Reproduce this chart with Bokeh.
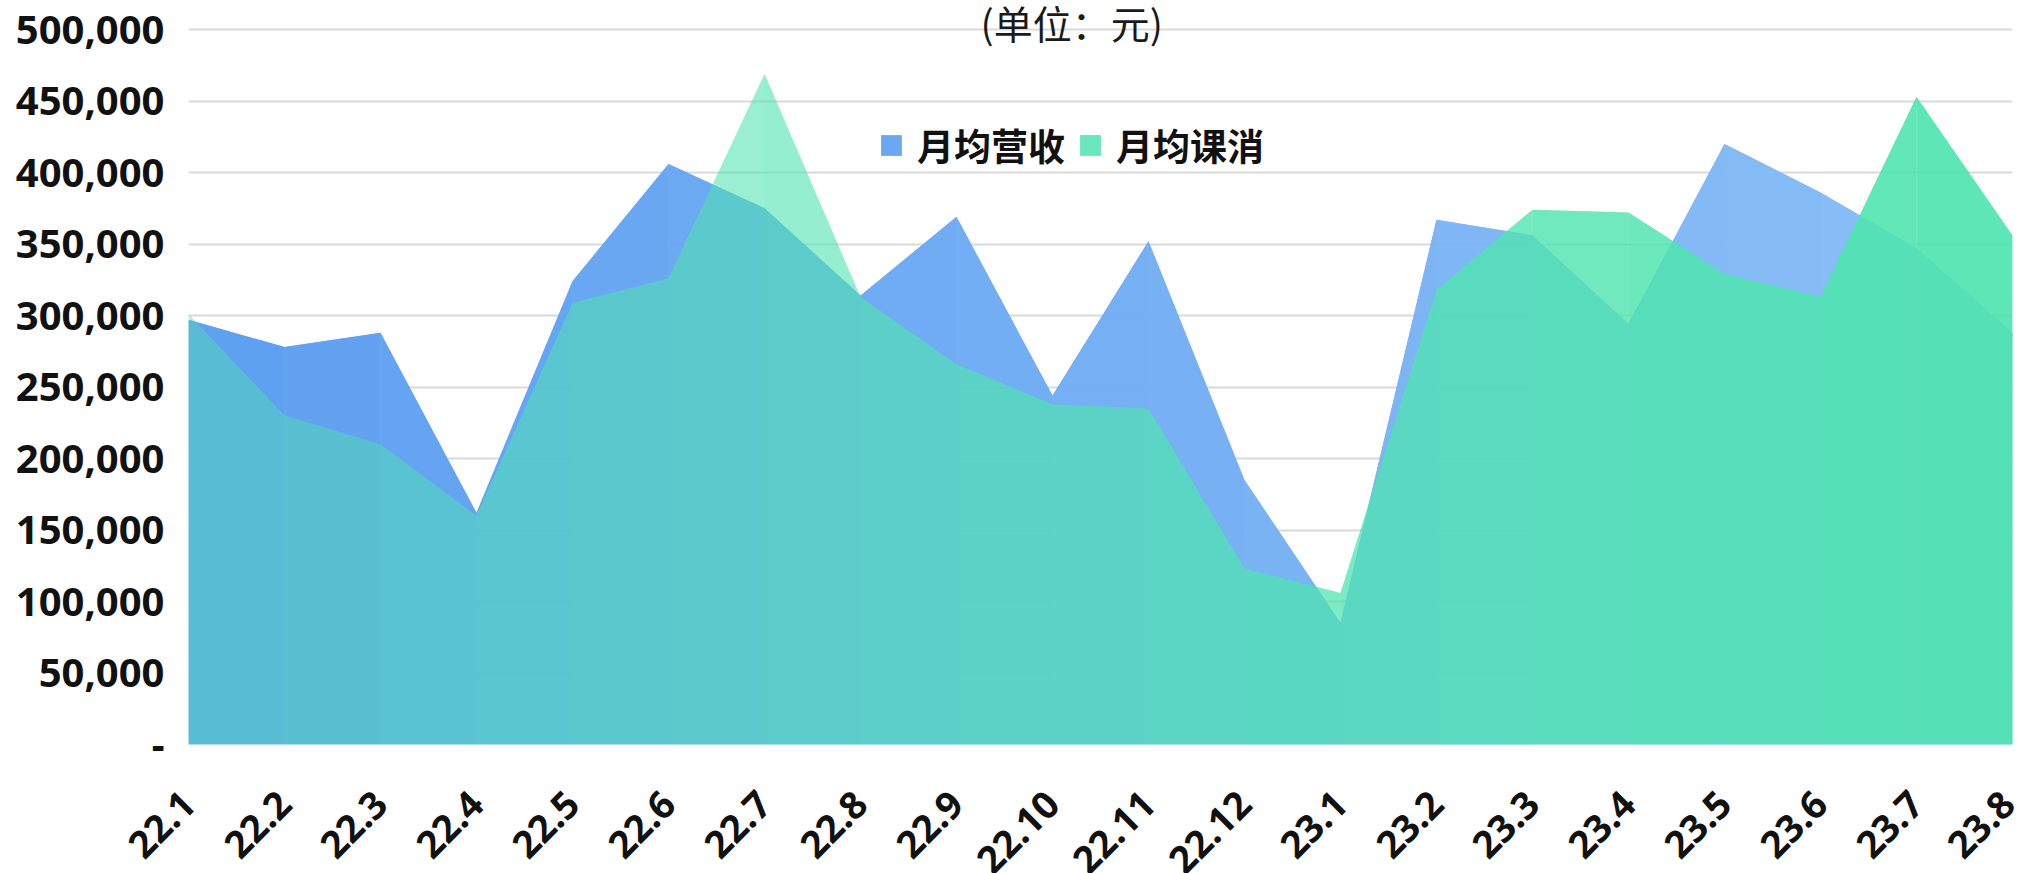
import math
from bokeh.plotting import figure
from bokeh.models import FixedTicker, NumeralTickFormatter, Legend, LegendItem, Label
from bokeh.embed import file_html
from bokeh.resources import INLINE

# ---- data ----
months = ["22.1", "22.2", "22.3", "22.4", "22.5", "22.6", "22.7", "22.8", "22.9", "22.10",
          "22.11", "22.12", "23.1", "23.2", "23.3", "23.4", "23.5", "23.6", "23.7", "23.8"]
revenue = [297000, 278000, 288000, 162000, 324000, 406000, 375000, 314000, 369000, 244000,
           352000, 185000, 85000, 367000, 356000, 294000, 420000, 386000, 347000, 288000]
consumption = [301000, 230000, 210000, 160000, 309000, 326000, 469000, 313000, 266000, 238000,
               235000, 123000, 106000, 318000, 374000, 372000, 329000, 313000, 453000, 356000]
y_ticks = [0, 50000, 100000, 150000, 200000, 250000, 300000, 350000, 400000, 450000, 500000]
series_names = ["月均营收", "月均课消"]
unit_text = "(单位：元)"

n = len(months)
xs = list(range(n))
zeros = [0] * n

def lerp_color(c1, c2, t):
    return "#%02x%02x%02x" % tuple(int(round(a + (b - a) * t)) for a, b in zip(c1, c2))

BLUE_L = (90, 157, 241)
BLUE_R = (140, 192, 246)
GREEN = "#50e4b0"

BOTTOM = 185
p = figure(width=2017, height=744 + BOTTOM, output_backend="svg", toolbar_location=None,
           x_range=(0, n - 1), y_range=(0, 520300),
           min_border_left=188, min_border_right=5, min_border_top=0, min_border_bottom=BOTTOM)
p.outline_line_color = None
p.background_fill_color = "white"
p.border_fill_color = "white"

# revenue area: a full underlayer + gradient segments
p.varea(x=xs, y1=zeros, y2=revenue, fill_color=lerp_color(BLUE_L, BLUE_R, 0.5), fill_alpha=0.9)
blue_r = []
for i in range(n - 1):
    t = (i + 0.5) / (n - 1)
    r = p.varea(x=xs[i:i + 2], y1=[0, 0], y2=revenue[i:i + 2],
                fill_color=lerp_color(BLUE_L, BLUE_R, t), fill_alpha=0.9)
    blue_r.append(r)

# consumption area: translucent underlayer + segments adding opacity to the right
A_BASE = 0.43
p.varea(x=xs, y1=zeros, y2=consumption, fill_color=GREEN, fill_alpha=A_BASE)
green_r = []
for i in range(n - 1):
    t = (i + 0.5) / (n - 1)
    target = 0.43 + 0.51 * t
    a_s = max(0.0, 1 - (1 - target) / (1 - A_BASE))
    r = p.varea(x=xs[i:i + 2], y1=[0, 0], y2=consumption[i:i + 2],
                fill_color=GREEN, fill_alpha=a_s)
    green_r.append(r)

# axes
p.xaxis.ticker = FixedTicker(ticks=xs)
p.xaxis.major_label_overrides = {i: m for i, m in enumerate(months)}
p.xaxis.major_label_orientation = math.pi / 4
p.xaxis.axis_line_color = None
p.xaxis.major_tick_line_color = None
p.xaxis.minor_tick_line_color = None
p.xaxis.major_tick_out = 0
p.xaxis.major_tick_in = 0
p.xaxis.major_label_text_font = "Noto Sans"
p.xaxis.major_label_text_font_style = "bold"
p.xaxis.major_label_text_font_size = "38px"
p.xaxis.major_label_text_color = "#111111"
p.xaxis.major_label_standoff = 53

p.yaxis.ticker = FixedTicker(ticks=y_ticks)
p.yaxis.formatter = NumeralTickFormatter(format="0,0")
p.yaxis.major_label_overrides = {0: "-"}
p.yaxis.axis_line_color = None
p.yaxis.major_tick_line_color = None
p.yaxis.minor_tick_line_color = None
p.yaxis.major_tick_out = 0
p.yaxis.major_tick_in = 0
p.yaxis.major_label_text_font = "Noto Sans"
p.yaxis.major_label_text_font_style = "bold"
p.yaxis.major_label_text_font_size = "40px"
p.yaxis.major_label_text_color = "#111111"
p.yaxis.major_label_standoff = 24

p.xgrid.grid_line_color = None
p.ygrid.ticker = FixedTicker(ticks=y_ticks)
p.ygrid.grid_line_color = "#d9d9d9"
p.ygrid.grid_line_width = 2

legend = Legend(items=[LegendItem(label=series_names[0], renderers=[blue_r[0]]),
                       LegendItem(label=series_names[1], renderers=[green_r[-1]])],
                location=(690, 572), orientation="horizontal",
                glyph_width=26, glyph_height=26, label_standoff=13, spacing=12,
                padding=0, margin=0,
                border_line_color=None, background_fill_alpha=0,
                label_text_font="Noto Sans CJK SC", label_text_font_style="bold",
                label_text_font_size="37px", label_text_color="#111111")
p.add_layout(legend)

p.add_layout(Label(x=9.2, y=500000, y_offset=8, text=unit_text, text_align="center",
                   text_baseline="middle", text_font="Noto Sans CJK SC",
                   text_font_size="39px", text_color="#1a1a1a"))

open("out.html", "w").write(file_html(p, INLINE))
